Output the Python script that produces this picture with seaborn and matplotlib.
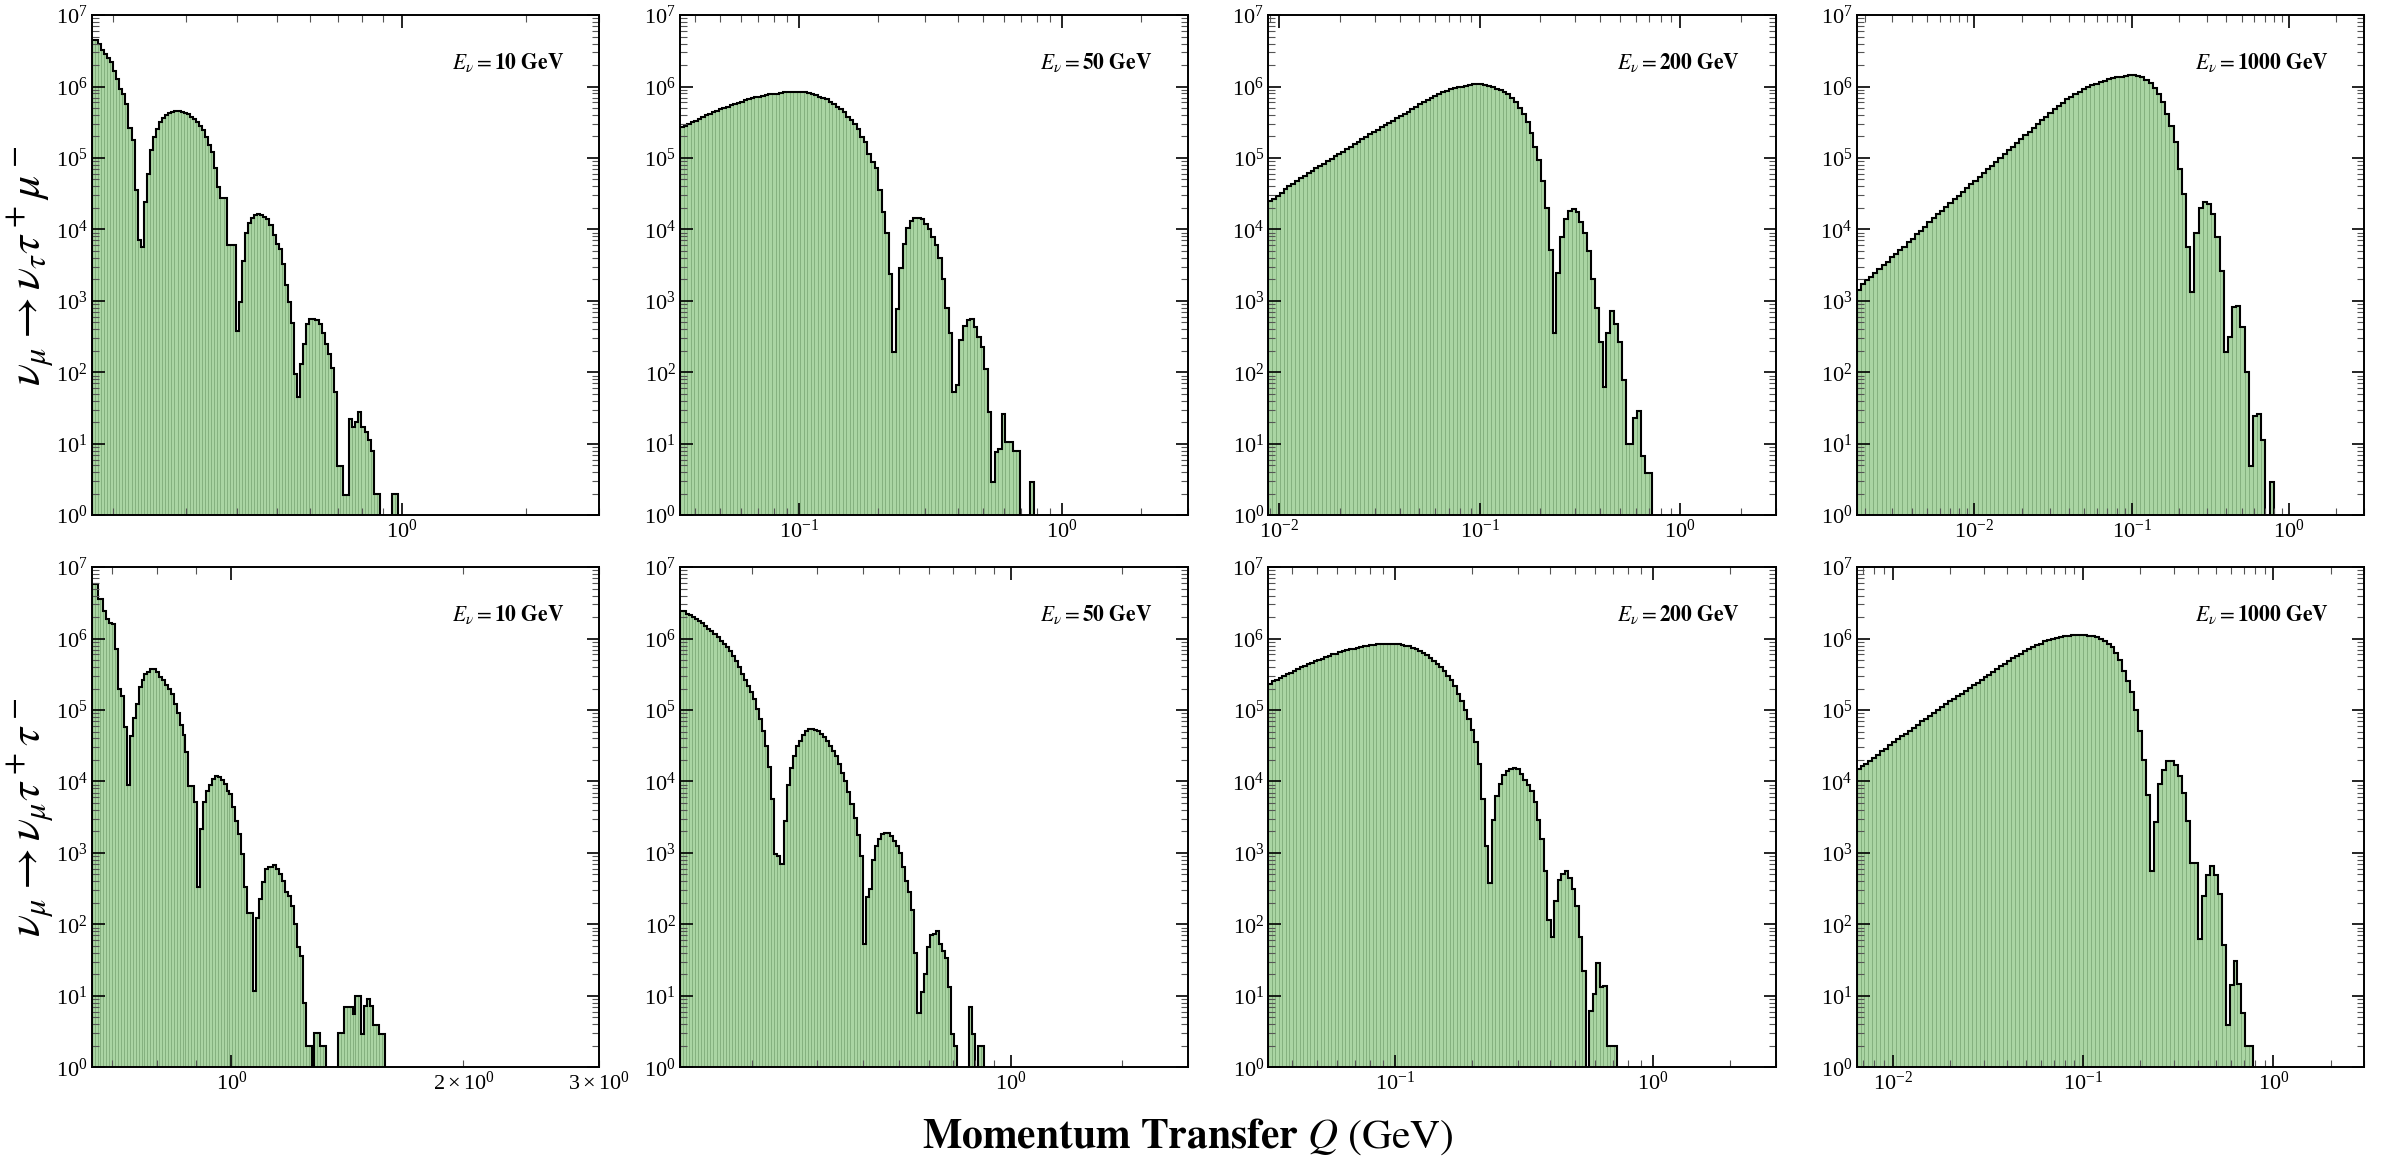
import numpy as np
import matplotlib
matplotlib.use("Agg")
import matplotlib.pyplot as plt
import seaborn as sns

nan = np.nan

# beam energies (GeV), one column each
energies = [10, 50, 200, 1000]
channels = [r"$\nu_\mu \rightarrow \nu_\tau \tau^+ \mu^-$",
            r"$\nu_\mu \rightarrow \nu_\mu \tau^+ \tau^-$"]

# Q range (GeV) spanned by the 100 log-spaced bins of each panel
q_range_tau_mu = [(0.178, 0.980), (0.0352, 0.780), (0.00881, 0.727), (0.00178, 0.799)]
q_range_tau_tau = [(0.659, 1.581), (0.128, 0.849), (0.0324, 0.729), (0.00645, 0.785)]

# log10(events) per bin (nan = empty bin)
tau_mu_10 = [6.65, 6.65, 6.60, 6.51, 6.45, 6.40, 6.34, 6.22, 6.10, 5.97,
             5.90, 5.75, 5.42, 5.25, 4.55, 3.85, 3.75, 4.38, 4.77, 5.11,
             5.30, 5.41, 5.50, 5.56, 5.60, 5.63, 5.65, 5.66, 5.66, 5.65,
             5.63, 5.61, 5.58, 5.54, 5.50, 5.45, 5.39, 5.30, 5.18, 5.08,
             4.86, 4.60, 4.44, 4.44, 3.78, 3.78, 3.78, 2.58, 2.98, 3.56,
             3.95, 4.09, 4.16, 4.20, 4.21, 4.20, 4.18, 4.14, 4.06, 3.92,
             3.80, 3.72, 3.51, 3.22, 2.98, 2.69, 1.97, 1.65, 2.11, 2.40,
             2.67, 2.74, 2.74, 2.73, 2.67, 2.55, 2.40, 2.25, 2.06, 1.72,
             0.69, 0.69, 0.28, 0.28, 1.35, 1.24, 1.30, 1.44, 1.24, 1.17,
             1.05, 0.90, 0.29, 0.29, nan, nan, nan, nan, 0.29, 0.29]
tau_mu_50 = [5.43, 5.45, 5.48, 5.50, 5.52, 5.55, 5.57, 5.60, 5.62, 5.64,
             5.66, 5.68, 5.70, 5.72, 5.74, 5.76, 5.77, 5.79, 5.81, 5.82,
             5.84, 5.85, 5.86, 5.87, 5.88, 5.89, 5.90, 5.90, 5.91, 5.92,
             5.92, 5.93, 5.93, 5.93, 5.92, 5.92, 5.91, 5.90, 5.88, 5.86,
             5.84, 5.82, 5.79, 5.76, 5.72, 5.68, 5.64, 5.58, 5.53, 5.47,
             5.40, 5.30, 5.22, 5.05, 4.95, 4.86, 4.55, 4.24, 3.95, 3.37,
             2.28, 2.88, 3.46, 3.80, 4.02, 4.12, 4.16, 4.16, 4.14, 4.08,
             4.00, 3.90, 3.78, 3.60, 3.30, 2.90, 2.55, 1.72, 1.82, 2.45,
             2.65, 2.73, 2.74, 2.64, 2.50, 2.35, 2.05, 1.45, 0.47, 0.88,
             0.93, 1.41, 1.03, 1.03, 0.90, 0.90, nan, nan, nan, 0.47]
tau_mu_200 = [4.40, 4.43, 4.47, 4.51, 4.56, 4.61, 4.64, 4.68, 4.72, 4.75,
              4.79, 4.82, 4.86, 4.89, 4.92, 4.96, 4.99, 5.03, 5.06, 5.09,
              5.13, 5.16, 5.20, 5.23, 5.26, 5.30, 5.33, 5.36, 5.39, 5.43,
              5.46, 5.49, 5.52, 5.56, 5.59, 5.62, 5.65, 5.69, 5.72, 5.75,
              5.78, 5.81, 5.84, 5.87, 5.90, 5.92, 5.94, 5.96, 5.98, 5.99,
              6.00, 6.01, 6.02, 6.03, 6.03, 6.03, 6.02, 6.01, 5.99, 5.97,
              5.95, 5.92, 5.89, 5.84, 5.78, 5.70, 5.61, 5.50, 5.35, 5.16,
              4.97, 4.68, 4.30, 3.71, 2.55, 3.39, 3.90, 4.14, 4.26, 4.28,
              4.25, 4.10, 3.95, 3.70, 3.30, 2.90, 2.42, 1.80, 2.55, 2.86,
              2.67, 2.43, 1.89, 1.00, 1.00, 1.36, 1.46, 0.83, 0.59, 0.59]
tau_mu_1000 = [3.15, 3.24, 3.29, 3.34, 3.39, 3.45, 3.50, 3.55, 3.61, 3.66,
               3.71, 3.76, 3.82, 3.87, 3.93, 3.98, 4.04, 4.10, 4.16, 4.21,
               4.26, 4.32, 4.37, 4.42, 4.47, 4.52, 4.58, 4.63, 4.68, 4.74,
               4.79, 4.84, 4.89, 4.95, 5.00, 5.05, 5.11, 5.16, 5.21, 5.27,
               5.32, 5.37, 5.42, 5.48, 5.53, 5.58, 5.63, 5.68, 5.73, 5.77,
               5.82, 5.86, 5.90, 5.93, 5.96, 5.99, 6.02, 6.04, 6.06, 6.08,
               6.10, 6.12, 6.13, 6.14, 6.15, 6.16, 6.16, 6.15, 6.13, 6.09,
               6.05, 5.98, 5.89, 5.78, 5.62, 5.45, 5.22, 4.85, 4.50, 3.75,
               3.13, 3.95, 4.30, 4.38, 4.36, 4.21, 3.90, 3.42, 2.28, 2.50,
               2.91, 2.93, 2.64, 2.01, 0.69, 1.39, 1.41, 1.05, nan, 0.47]

tau_tau_10 = [6.76, 6.76, 6.56, 6.56, 6.39, 6.27, 6.22, 6.20, 5.86, 5.30,
              5.20, 4.76, 3.95, 4.63, 4.89, 5.08, 5.32, 5.42, 5.50, 5.53,
              5.57, 5.57, 5.53, 5.46, 5.42, 5.35, 5.30, 5.23, 5.08, 4.96,
              4.79, 4.65, 4.41, 3.93, 3.93, 3.71, 2.52, 3.33, 3.71, 3.86,
              3.95, 4.03, 4.07, 4.06, 4.02, 3.96, 3.87, 3.83, 3.64, 3.44,
              3.27, 2.98, 2.52, 2.16, 2.16, 1.07, 2.09, 2.35, 2.59, 2.78,
              2.80, 2.80, 2.83, 2.78, 2.70, 2.60, 2.45, 2.40, 2.25, 2.01,
              1.68, 1.56, 0.90, 0.30, 0.30, nan, 0.48, 0.48, 0.30, 0.30,
              nan, nan, nan, nan, 0.48, 0.48, 0.84, 0.84, 0.84, 0.75,
              1.00, 1.00, 0.47, 0.85, 0.95, 0.85, 0.59, 0.59, 0.47, 0.47]
tau_tau_50 = [6.39, 6.38, 6.35, 6.33, 6.30, 6.27, 6.25, 6.22, 6.18, 6.14,
              6.10, 6.06, 6.02, 5.97, 5.92, 5.88, 5.83, 5.76, 5.68, 5.60,
              5.51, 5.42, 5.33, 5.25, 5.15, 5.02, 4.88, 4.70, 4.50, 4.20,
              3.75, 2.98, 2.96, 2.84, 3.45, 3.95, 4.19, 4.36, 4.50, 4.57,
              4.65, 4.70, 4.73, 4.73, 4.72, 4.70, 4.67, 4.62, 4.57, 4.50,
              4.43, 4.35, 4.24, 4.12, 4.00, 3.85, 3.68, 3.49, 3.25, 2.95,
              1.72, 2.38, 2.50, 2.90, 3.10, 3.20, 3.26, 3.28, 3.28, 3.23,
              3.16, 3.10, 3.00, 2.80, 2.60, 2.45, 2.20, 1.60, 0.76, 1.05,
              1.31, 1.68, 1.85, 1.87, 1.91, 1.72, 1.63, 1.53, 1.12, 0.47,
              0.30, nan, nan, nan, nan, 0.84, 0.47, nan, 0.30, 0.30]
tau_tau_200 = [5.37, 5.40, 5.42, 5.45, 5.47, 5.50, 5.52, 5.55, 5.57, 5.60,
               5.62, 5.64, 5.66, 5.68, 5.70, 5.72, 5.74, 5.76, 5.78, 5.79,
               5.81, 5.82, 5.84, 5.85, 5.86, 5.87, 5.88, 5.89, 5.90, 5.91,
               5.91, 5.92, 5.92, 5.93, 5.93, 5.93, 5.93, 5.92, 5.91, 5.90,
               5.89, 5.87, 5.85, 5.83, 5.80, 5.77, 5.73, 5.69, 5.64, 5.60,
               5.54, 5.48, 5.42, 5.33, 5.22, 5.12, 5.00, 4.88, 4.72, 4.55,
               4.25, 3.75, 3.10, 2.58, 3.46, 3.80, 3.97, 4.09, 4.15, 4.18,
               4.19, 4.17, 4.10, 4.02, 3.95, 3.87, 3.71, 3.46, 3.20, 2.74,
               2.06, 1.82, 2.33, 2.62, 2.70, 2.75, 2.65, 2.50, 2.26, 1.82,
               1.34, nan, 0.78, 1.02, 1.46, 1.12, 1.14, 0.30, 0.30, 0.30]
tau_tau_1000 = [4.17, 4.21, 4.25, 4.29, 4.33, 4.37, 4.42, 4.46, 4.51, 4.55,
                4.59, 4.63, 4.67, 4.71, 4.75, 4.79, 4.84, 4.88, 4.92, 4.96,
                5.00, 5.04, 5.08, 5.12, 5.15, 5.19, 5.23, 5.27, 5.31, 5.35,
                5.38, 5.42, 5.46, 5.49, 5.53, 5.57, 5.61, 5.65, 5.69, 5.73,
                5.76, 5.79, 5.82, 5.85, 5.88, 5.91, 5.93, 5.96, 5.98, 5.99,
                6.01, 6.02, 6.03, 6.04, 6.05, 6.05, 6.05, 6.05, 6.04, 6.03,
                6.02, 5.99, 5.97, 5.93, 5.88, 5.80, 5.70, 5.55, 5.40, 5.25,
                5.00, 4.70, 4.30, 3.81, 2.75, 3.43, 3.96, 4.16, 4.29, 4.29,
                4.23, 4.08, 3.84, 3.44, 2.86, 2.86, 1.80, 2.40, 2.69, 2.81,
                2.69, 2.42, 1.71, 0.59, 1.15, 1.48, 1.17, 0.76, 0.30, 0.30]

rows = [
    (q_range_tau_mu, [tau_mu_10, tau_mu_50, tau_mu_200, tau_mu_1000]),
    (q_range_tau_tau, [tau_tau_10, tau_tau_50, tau_tau_200, tau_tau_1000]),
]

plt.rcParams['font.family'] = ['Liberation Serif', 'DejaVu Serif']
plt.rcParams['mathtext.fontset'] = 'stix'

fig, axes = plt.subplots(2, 4, figsize=(23.82, 11.6), dpi=100)
fig.subplots_adjust(left=0.0385, right=0.9925, bottom=0.080, top=0.987,
                    wspace=0.159, hspace=0.104)

fill_color = '#aad5a3'
bar_edge = '#7aa874'

for r, (q_ranges, panels) in enumerate(rows):
    for c, logn in enumerate(panels):
        ax = axes[r, c]
        lo, hi = q_ranges[c]
        counts = np.nan_to_num(10 ** np.array(logn, dtype=float), nan=0.0)
        edges = np.geomspace(lo, hi, len(counts) + 1)
        centers = np.sqrt(edges[:-1] * edges[1:])

        # seaborn bins in log10 space when log_scale is on
        sns.histplot(x=centers, weights=counts, bins=list(np.log10(edges)),
                     log_scale=True, ax=ax, color=fill_color, alpha=1,
                     edgecolor=bar_edge, linewidth=0.5)
        ax.stairs(counts, edges, color='black', linewidth=1.5, baseline=0)

        ax.set_yscale('log')
        ax.set_ylim(1, 1e7)
        ax.set_xlim(lo, 3)
        ax.set_ylabel('')
        ax.set_xlabel('')

        ax.text(0.93, 0.905, r'$E_\nu = \mathbf{%d\ GeV}$' % energies[c],
                transform=ax.transAxes, ha='right', va='center', fontsize=15.5)

        ax.tick_params(which='both', direction='in', top=True, right=True,
                       labelsize=16, pad=3)
        ax.tick_params(which='major', length=9, width=1.2)
        ax.tick_params(which='minor', length=5, width=0.8, color='#555555')
        for s in ax.spines.values():
            s.set_linewidth(1.4)

    axes[r, 0].set_ylabel(channels[r], fontsize=33)
    axes[r, 0].yaxis.set_label_coords(-0.068, 0.5)

fig.text(0.4987, 0.020, r'$\mathbf{Momentum\ Transfer}\ Q\ \mathrm{(GeV)}$',
         ha='center', va='center', fontsize=30)

plt.savefig('out.png', dpi=100)
